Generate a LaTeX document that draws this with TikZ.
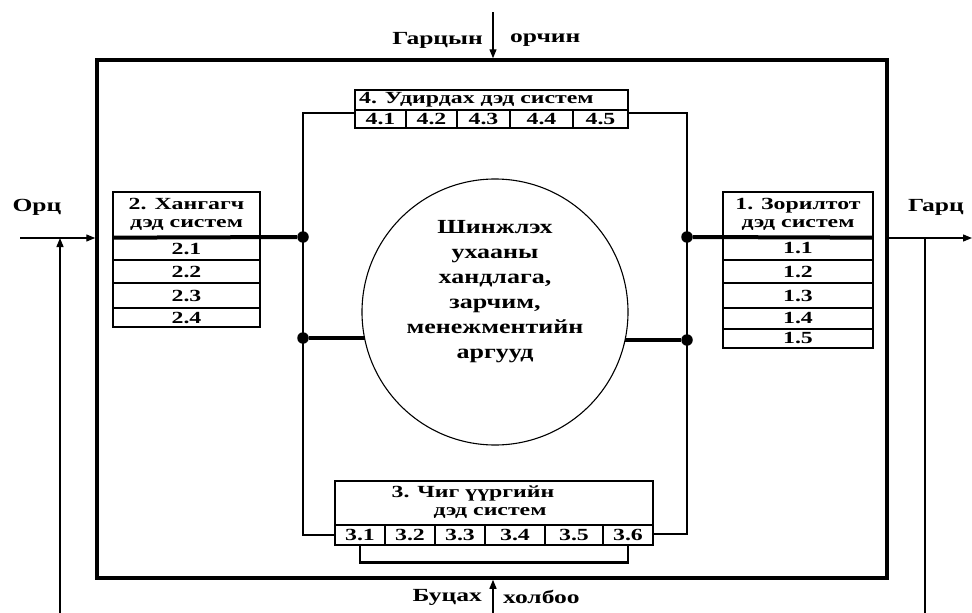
\documentclass[tikz,border=0pt]{standalone}
\usepackage{fontspec}
\setmainfont{Liberation Serif}[FakeStretch=1.3]
\newfontfamily\boxface{Liberation Serif}[FakeStretch=1.4]
\newfontfamily\lblface{Liberation Serif}[FakeStretch=1.38]
\usetikzlibrary{arrows.meta}
\newcommand\numfont{\boxface\fontsize{17}{18}\selectfont\bfseries}
\newcommand\hdrfont{\boxface\fontsize{17}{18}\selectfont\bfseries}
\newcommand\corefont{\fontsize{20}{25}\selectfont\bfseries}
\newcommand\lblfont{\lblface\fontsize{18.5}{20}\selectfont\bfseries}
\begin{document}
\begin{tikzpicture}[x=1pt,y=-1pt,
  cellbox/.style={draw, line width=1.3pt, inner sep=0pt, align=center, font=\numfont},
  hdrbox/.style={cellbox, font=\hdrfont},
  wire/.style={line width=1.3pt},
  heavy/.style={line width=4pt},
  dotn/.style={circle, fill, inner sep=0pt, minimum size=11.5pt},
  flow/.style={line width=1.3pt, -{Triangle[length=9pt,width=7pt]}},
  lbl/.style={font=\lblfont, inner sep=0pt}
]
\useasboundingbox (0,0) rectangle (972,613);

% system boundary
\node[draw, line width=3.5pt, minimum width=790pt, minimum height=518pt, inner sep=0pt] (sys) at (492,319) {};

% central circle
\node[draw, circle, line width=1.1pt, minimum size=266pt, inner sep=0pt] (core) at (495,312) {};
\node[font=\corefont, align=center, inner sep=0pt] (coretxt) at (495,292)
  {Шинжлэх\\ухааны\\хандлага,\\зарчим,\\менежментийн\\аргууд};
\coordinate (coreL) at (364.6,338);
\coordinate (coreR) at (625.3,340);

% subsystem 2
\node[hdrbox, minimum width=147pt, minimum height=45pt] (h2) at (186.5,214.5) {2. Хангагч\\дэд систем};
\node[cellbox, minimum width=147pt, minimum height=23pt] (r21) at (186.5,248.5) {2.1};
\node[cellbox, minimum width=147pt, minimum height=23pt] (r22) at (186.5,271.5) {2.2};
\node[cellbox, minimum width=147pt, minimum height=25pt] (r23) at (186.5,295.5) {2.3};
\node[cellbox, minimum width=147pt, minimum height=19pt] (r24) at (186.5,317.5) {2.4};

% subsystem 1
\node[hdrbox, minimum width=150pt, minimum height=45pt] (h1) at (798,214.5) {1. Зорилтот\\дэд систем};
\node[cellbox, minimum width=150pt, minimum height=23pt] (r11) at (798,248.5) {1.1};
\node[cellbox, minimum width=150pt, minimum height=23pt] (r12) at (798,271.5) {1.2};
\node[cellbox, minimum width=150pt, minimum height=25pt] (r13) at (798,295.5) {1.3};
\node[cellbox, minimum width=150pt, minimum height=21pt] (r14) at (798,318.5) {1.4};
\node[cellbox, minimum width=150pt, minimum height=19pt] (r15) at (798,338.5) {1.5};

% subsystem 4
\node[cellbox, minimum width=273pt, minimum height=20pt] (h4) at (491.5,100) {};
\node[font=\hdrfont, inner sep=0pt, anchor=west] (t4) at (359,100) {4. Удирдах дэд систем};
\node[cellbox, minimum width=51pt, minimum height=18pt] (c41) at (380.5,119) {4.1};
\node[cellbox, minimum width=51pt, minimum height=18pt] (c42) at (431.5,119) {4.2};
\node[cellbox, minimum width=53pt, minimum height=18pt] (c43) at (483.5,119) {4.3};
\node[cellbox, minimum width=63pt, minimum height=18pt] (c44) at (541.5,119) {4.4};
\node[cellbox, minimum width=55pt, minimum height=18pt] (c45) at (600.5,119) {4.5};

% subsystem 3
\node[cellbox, minimum width=318pt, minimum height=44pt] (h3) at (494,503) {};
\node[font=\hdrfont, inner sep=0pt] (t3a) at (473,493) {3. Чиг үүргийн};
\node[font=\hdrfont, inner sep=0pt] (t3b) at (490,513) {дэд систем};
\node[cellbox, minimum width=50pt, minimum height=20pt] (c31) at (360,535) {3.1};
\node[cellbox, minimum width=50pt, minimum height=20pt] (c32) at (410,535) {3.2};
\node[cellbox, minimum width=50pt, minimum height=20pt] (c33) at (460,535) {3.3};
\node[cellbox, minimum width=60pt, minimum height=20pt] (c34) at (515,535) {3.4};
\node[cellbox, minimum width=58pt, minimum height=20pt] (c35) at (574,535) {3.5};
\node[cellbox, minimum width=50pt, minimum height=20pt] (c36) at (628,535) {3.6};

% junction frame linking the subsystems
\coordinate (tl) at (303,113);
\coordinate (tr) at (687,113);
\coordinate (bl) at (303,535);
\coordinate (br) at (687,534);
\draw[wire] (c41.west |- tl) -- (tl) -- (bl) -- (c31.west |- bl);
\draw[wire] (c45.east |- tr) -- (tr) -- (br) -- (c36.east |- br);

\node[dotn] (d2) at (303,237) {};
\node[dotn] (dc2) at (303,338) {};
\node[dotn] (d1) at (687,237) {};
\node[dotn] (dc1) at (687,340) {};
\draw[heavy] (h2.south west) -- (d2);
\draw[heavy] (h1.south east) -- (d1);
\draw[heavy] (dc2) -- (coreL);
\draw[heavy] (dc1) -- (coreR);

% bracket under subsystem 3
\draw[line width=2.5pt] (c31.south) -- ++(0,17) -| (c36.south);

% environment, input, output and feedback
\coordinate (envtop) at (493,12);
\coordinate (fbbot) at (493,613);
\coordinate (inL) at (20,238);
\coordinate (outR) at (972,238);
\coordinate (fbL) at (60,613);
\coordinate (fbR) at (925,613);
\draw[flow] (envtop) -- (envtop |- sys.north);
\draw[flow] (fbbot) -- (fbbot |- sys.south);
\draw[flow] (inL) -- (inL -| sys.west);
\draw[flow] (outR -| sys.east) -- (outR);
\draw[flow] (fbL) -- (fbL |- inL);
\draw[wire] (fbR |- outR) -- (fbR);

\node[lbl, anchor=east] (envA) at (483,40) {Гарцын};
\node[lbl, anchor=west] (envB) at (510,40) {орчин};
\node[lbl, anchor=east] (fbA) at (482,597) {Буцах};
\node[lbl, anchor=west] (fbB) at (503,597) {холбоо};
\node[lbl] (inlbl) at (37,207) {Орц};
\node[lbl] (outlbl) at (936,207) {Гарц};
\end{tikzpicture}
\end{document}
